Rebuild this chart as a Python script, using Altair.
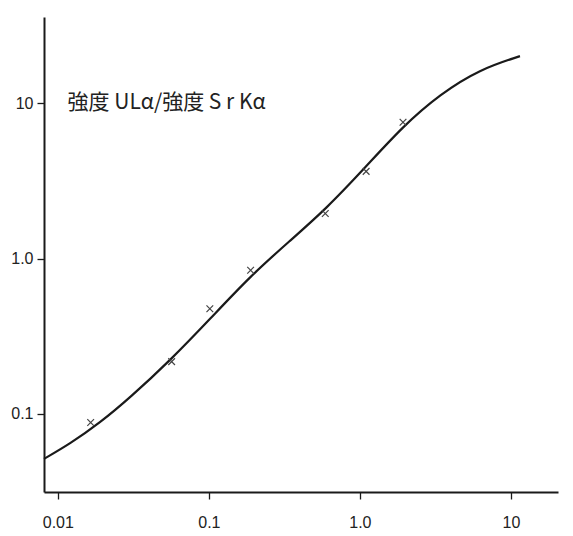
import altair as alt
import pandas as pd

# Fitted curve
curve_x = [0.0081, 0.0120, 0.0190, 0.0300, 0.0560, 0.1016, 0.1871, 0.3436, 0.5957, 1.0965, 1.928, 3.388, 6.237, 11.48]
curve_y = [0.0513, 0.0640, 0.0875, 0.1268, 0.2228, 0.4074, 0.7674, 1.30, 2.08, 3.90, 7.112, 11.43, 16.56, 20.09]

# Measured points (crosses)
point_x = [0.0165, 0.0567, 0.1015, 0.189, 0.59, 1.10, 1.93]
point_y = [0.088, 0.217, 0.475, 0.84, 1.95, 3.64, 7.54]

# Axes
x_ticks = [0.01, 0.1, 1, 10]
x_tick_labels = ["0.01", "0.1", "1.0", "10"]
y_ticks = [0.1, 1, 10]
y_tick_labels = ["0.1", "1.0", "10"]
x_domain = [0.0081, 20.5]
y_domain = [0.0314, 35.9]

# Annotation
note_text = ["強度 ULα/強度  S r Kα"]
note_x = [0.0116]
note_y = [10.0]


def label_expr(values, labels):
    expr = '""'
    for v, l in reversed(list(zip(values, labels))):
        expr = f'abs(log(datum.value/{v}))<0.01 ? "{l}" : ({expr})'
    return expr


curve_df = pd.DataFrame({"x": curve_x, "y": curve_y})
point_df = pd.DataFrame({"x": point_x, "y": point_y})
note_df = pd.DataFrame({"x": note_x, "y": note_y, "t": note_text})

xs = alt.Scale(type="log", domain=x_domain, nice=False)
ys = alt.Scale(type="log", domain=y_domain, nice=False)

x_axis = alt.Axis(values=x_ticks, labelExpr=label_expr(x_ticks, x_tick_labels),
                  title=None, grid=False, labelPadding=15)
y_axis = alt.Axis(values=y_ticks, labelExpr=label_expr(y_ticks, y_tick_labels),
                  title=None, grid=False, labelPadding=4)

line = alt.Chart(curve_df).mark_line(color="#1a1a1a", strokeWidth=2.2, interpolate="basis").encode(
    x=alt.X("x:Q", scale=xs, axis=x_axis),
    y=alt.Y("y:Q", scale=ys, axis=y_axis),
)

pts = alt.Chart(point_df).mark_point(
    shape="M -1 -1 L 1 1 M -1 1 L 1 -1", filled=False, color="#444444",
    strokeWidth=1.2, size=45, opacity=1,
).encode(x=alt.X("x:Q", scale=xs), y=alt.Y("y:Q", scale=ys))

note = alt.Chart(note_df).mark_text(
    align="left", baseline="middle", font="Noto Sans CJK JP", fontSize=21, color="#222222",
).encode(x=alt.X("x:Q", scale=xs), y=alt.Y("y:Q", scale=ys), text="t:N")

chart = (line + pts + note).properties(
    width=514, height=475,
    padding={"left": 44, "top": 17, "right": 15, "bottom": 44},
    autosize=alt.AutoSizeParams(type="none"),
    background="white",
).configure_view(strokeWidth=0).configure_axis(
    domainColor="#1a1a1a", domainWidth=2, tickColor="#1a1a1a", tickWidth=1.3, tickSize=7,
    labelFont="Liberation Sans", labelFontSize=16, labelColor="#222222",
)

chart.save("out.html", embed_options={"renderer": "svg", "actions": False})
